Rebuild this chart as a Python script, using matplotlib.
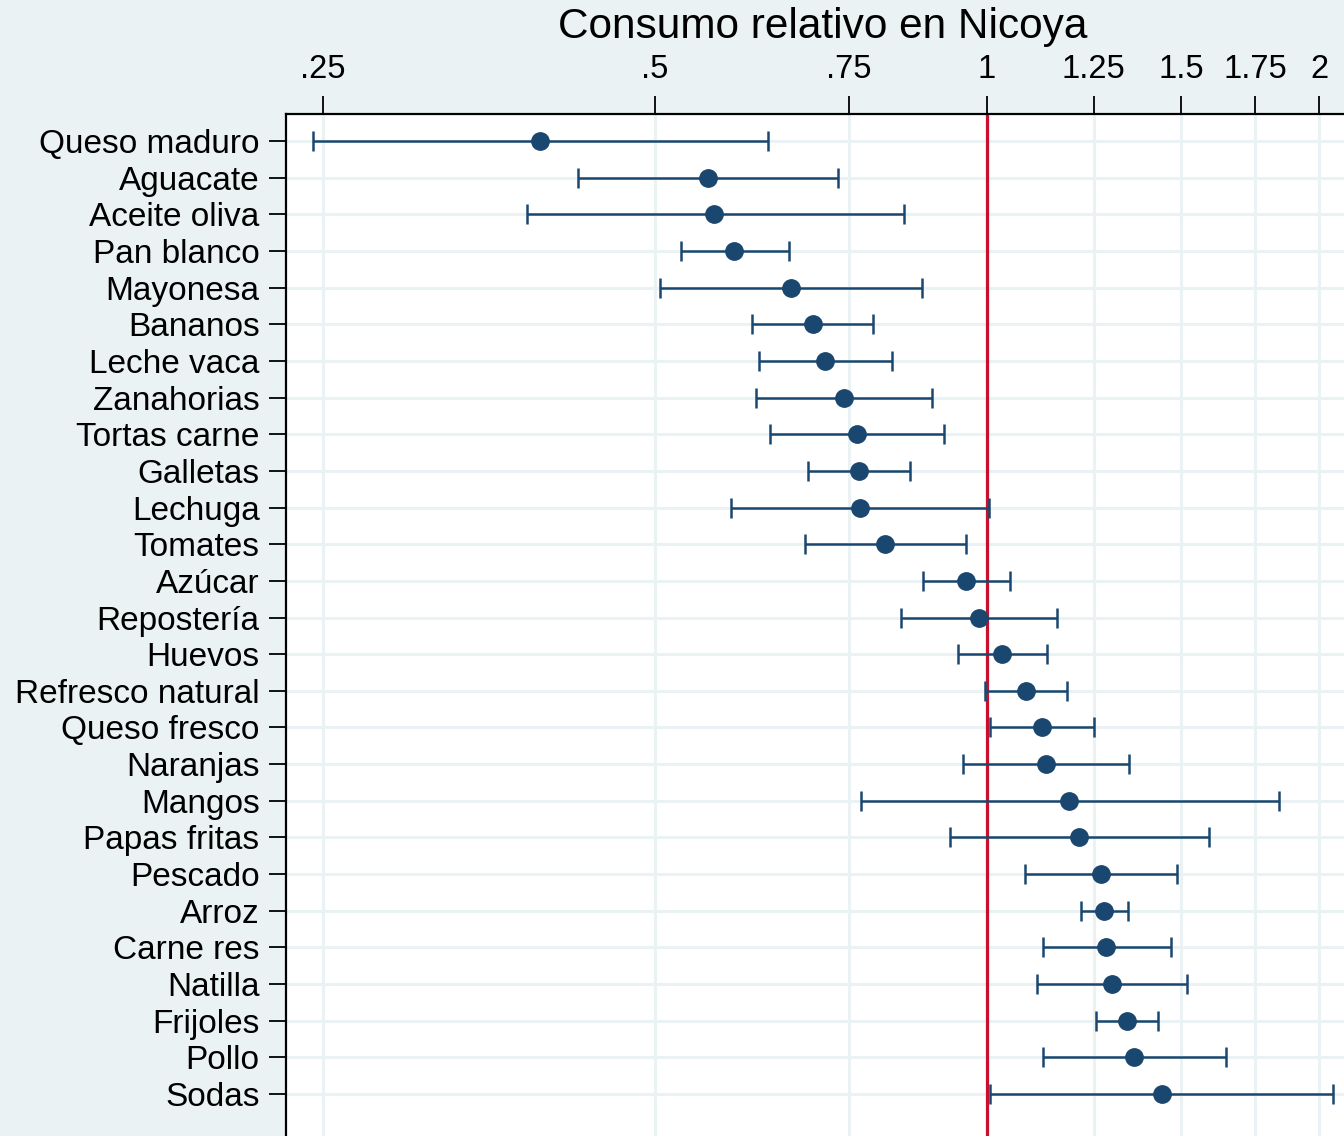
import matplotlib
matplotlib.use("Agg")
import matplotlib.pyplot as plt
import numpy as np

plt.rcParams['font.family'] = ['Liberation Sans', 'DejaVu Sans']

foods = ["Queso maduro", "Aguacate", "Aceite oliva", "Pan blanco", "Mayonesa",
         "Bananos", "Leche vaca", "Zanahorias", "Tortas carne", "Galletas",
         "Lechuga", "Tomates", "Azúcar", "Repostería", "Huevos",
         "Refresco natural", "Queso fresco", "Naranjas", "Mangos", "Papas fritas",
         "Pescado", "Arroz", "Carne res", "Natilla", "Frijoles", "Pollo", "Sodas"]
estimate = [0.393, 0.559, 0.566, 0.590, 0.664, 0.695, 0.713, 0.742, 0.762, 0.765,
            0.767, 0.808, 0.957, 0.983, 1.032, 1.085, 1.122, 1.131, 1.187, 1.212,
            1.269, 1.277, 1.282, 1.298, 1.340, 1.359, 1.441]
ci_low = [0.245, 0.426, 0.383, 0.528, 0.505, 0.612, 0.621, 0.617, 0.636, 0.688,
          0.586, 0.684, 0.875, 0.836, 0.941, 0.996, 1.006, 0.951, 0.769, 0.926,
          1.082, 1.217, 1.124, 1.110, 1.256, 1.124, 1.006]
ci_high = [0.633, 0.733, 0.841, 0.661, 0.873, 0.788, 0.820, 0.892, 0.914, 0.852,
           1.004, 0.957, 1.049, 1.157, 1.133, 1.182, 1.250, 1.345, 1.840, 1.590,
           1.487, 1.342, 1.468, 1.518, 1.429, 1.647, 2.059]
xticks = [0.25, 0.5, 0.75, 1, 1.25, 1.5, 1.75, 2]
xticklabels = [".25", ".5", ".75", "1", "1.25", "1.5", "1.75", "2"]

W, H = 1344, 1136
bg = "#EAF2F3"
navy = "#1A476F"
fig = plt.figure(figsize=(W/100, H/100), dpi=100, facecolor=bg)
ax = fig.add_axes([286/W, 0, (W-286)/W, (H-114)/H])
ax.set_facecolor("white")

y = np.arange(len(foods))
est = np.array(estimate)
lo = np.array(ci_low)
hi = np.array(ci_high)

ax.set_xscale("log")
ax.set_xlim(0.2315, 2.107)
ax.set_ylim(len(foods) - 1 + 1.146, -0.737)

ax.axvline(1, color="#C8102E", lw=2.3, zorder=2)
ax.errorbar(est, y, xerr=[est - lo, hi - est], fmt="o", color=navy,
            ms=12.5, elinewidth=1.8, capsize=7, capthick=1.8, zorder=3)

ax.set_xticks(xticks)
ax.set_xticklabels(xticklabels)
ax.xaxis.set_minor_locator(matplotlib.ticker.NullLocator())
ax.set_yticks(y)
ax.set_yticklabels(foods)
ax.xaxis.tick_top()
ax.tick_params(axis="x", which="major", direction="out", length=13, width=1.3,
               labelsize=23.5, pad=8, colors="black")
ax.tick_params(axis="y", direction="out", length=12, width=1.3,
               labelsize=24, pad=7, colors="black")
ax.grid(True, color=bg, lw=2.2, zorder=0)
ax.set_axisbelow(True)
for s in ["right", "bottom"]:
    ax.spines[s].set_visible(False)
for s in ["top", "left"]:
    ax.spines[s].set_linewidth(1.6)

fig.text((557 + 1088) / 2 / W, 1 - 27 / H, "Consumo relativo en Nicoya",
         ha="center", va="center", fontsize=30.5)

fig.savefig("out.png", dpi=100, facecolor=bg)
